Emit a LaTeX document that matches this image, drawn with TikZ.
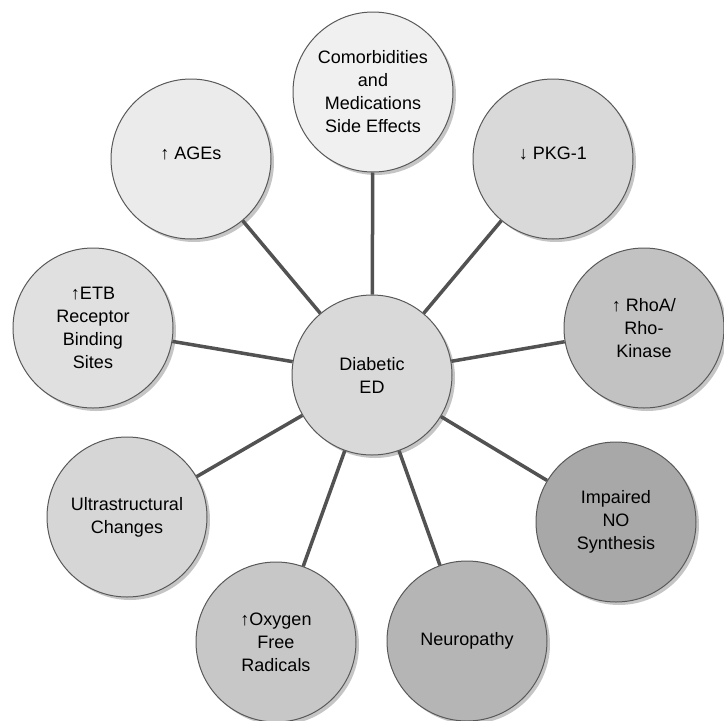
\documentclass[tikz,border=0pt]{standalone}
\usepackage{fontspec}
\setmainfont{Liberation Sans}
\usetikzlibrary{shadows}

\begin{document}
\begin{tikzpicture}[x=1pt,y=-1pt,
    bubble/.style={circle, draw=black!65, line width=1pt, minimum size=160pt,
      inner sep=0pt, align=center, font=\fontsize{18}{23}\selectfont,
      drop shadow={shadow xshift=3pt, shadow yshift=-3pt, fill=black!45}},
    spoke/.style={draw=black!68, line width=3.5pt}]
  \useasboundingbox (0,0) rectangle (724,721);
  \node[bubble, fill=black!6]  (meds)  at (373,92)  {Comorbidities\\and\\Medications\\Side Effects};
  \node[bubble, fill=black!8]  (ages)  at (191,159) {\raisebox{12pt}{↑ AGEs}};
  \node[bubble, fill=black!15] (pkg)   at (553,159) {\raisebox{12pt}{↓ PKG-1}};
  \node[bubble, fill=black!12] (etb)   at (93,328)  {↑ETB\\Receptor\\Binding\\Sites};
  \node[bubble, fill=black!24] (rho)   at (644,328) {↑ RhoA/\\Rho-\\Kinase};
  \node[bubble, fill=black!16] (ultra) at (127,517) {Ultrastructural\\Changes};
  \node[bubble, fill=black!34] (nos)   at (616,522) {Impaired\\NO\\Synthesis};
  \node[bubble, fill=black!22] (oxy)   at (276,642) {↑Oxygen\\Free\\Radicals};
  \node[bubble, fill=black!29] (neuro) at (467,641) {Neuropathy};
  \node[bubble, fill=black!15] (hub)   at (372,375) {Diabetic\\ED};
  % spokes
  \foreach \n in {meds,ages,pkg,etb,rho,ultra,nos,oxy,neuro}
    \draw[spoke] (hub) -- (\n);
\end{tikzpicture}
\end{document}
